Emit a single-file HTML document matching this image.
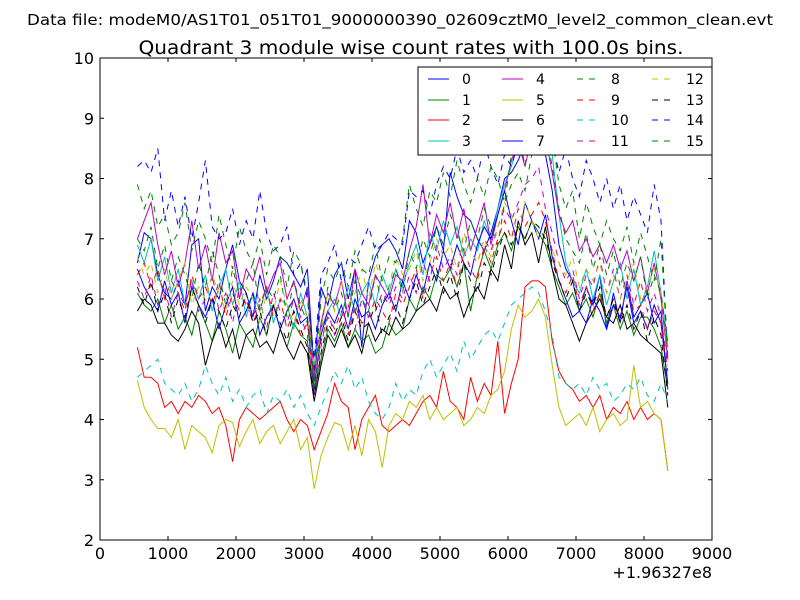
<!DOCTYPE html>
<html><head><meta charset="utf-8"><style>
body{margin:0;background:#fff;}
svg{display:block;font-family:"DejaVu Sans","Liberation Sans",sans-serif;}
</style></head><body>
<svg id="chart" width="800" height="600" viewBox="0 0 800 600" xmlns="http://www.w3.org/2000/svg">
<rect width="800" height="600" fill="#fff"/>
<text x="400" y="25" font-size="15.5" text-anchor="middle" textLength="746" lengthAdjust="spacingAndGlyphs">Data file: modeM0/AS1T01_051T01_9000000390_02609cztM0_level2_common_clean.evt</text>
<text x="411" y="54" font-size="19" text-anchor="middle" textLength="545" lengthAdjust="spacingAndGlyphs">Quadrant 3 module wise count rates with 100.0s bins.</text>
<g id="series"></g>
<rect x="100" y="58" width="612" height="482" fill="none" stroke="#000" stroke-width="1"/>
<g id="axes"></g>
<text x="712" y="578" font-size="16" text-anchor="end">+1.96327e8</text>
<g id="legend"></g>
</svg>
<script>
const times=[550,650,750,850,950,1050,1150,1250,1350,1450,1550,1650,1750,1850,1950,2050,2150,2250,2350,2450,2550,2650,2750,2850,2950,3050,3150,3250,3350,3450,3550,3650,3750,3850,3950,4050,4150,4250,4350,4450,4550,4650,4750,4850,4950,5050,5150,5250,5350,5450,5550,5650,5750,5850,5950,6050,6150,6250,6350,6450,6550,6650,6750,6850,6950,7050,7150,7250,7350,7450,7550,7650,7750,7850,7950,8050,8150,8250,8350];
const xTicks=[0,1000,2000,3000,4000,5000,6000,7000,8000,9000];
const yTicks=[2,3,4,5,6,7,8,9,10];
const s0=[6.6,7.1,7.0,6.4,6.1,6.0,6.3,5.9,6.9,7.0,5.8,6.2,6.0,6.5,6.9,6.3,6.1,5.7,6.4,6.0,6.3,6.7,6.6,6.4,6.2,6.5,4.8,6.2,5.9,6.4,6.6,6.0,6.5,5.2,6.3,6.7,6.9,7.0,6.8,6.5,7.3,7.1,6.6,6.9,7.2,6.8,8.1,7.7,7.4,7.3,7.0,6.8,7.1,7.5,8.0,8.1,8.3,8.6,8.5,8.7,8.4,7.8,6.9,6.5,6.3,5.8,6.2,5.9,6.4,5.5,6.1,5.6,6.3,5.7,5.9,6.1,5.6,5.8,4.5];
const s1=[6.1,5.9,5.8,6.0,5.6,5.9,5.5,5.7,5.4,5.9,5.6,5.3,5.8,5.5,5.1,5.6,5.4,5.2,5.7,5.4,5.9,5.5,5.2,5.6,5.4,5.3,4.4,5.0,5.5,5.3,5.6,5.2,5.5,5.3,5.4,5.1,5.2,5.6,5.4,5.5,6.0,5.8,6.2,6.0,6.4,6.3,6.5,6.2,6.6,5.8,6.4,6.8,6.5,6.9,7.1,6.8,7.2,7.0,7.3,7.1,6.9,6.5,6.2,5.9,6.1,5.8,6.0,5.7,6.1,5.6,5.9,5.5,5.8,5.4,5.7,5.7,5.5,5.2,4.5];
const s2=[5.2,4.7,4.7,4.6,4.2,4.3,4.1,4.3,4.2,4.4,4.3,4.1,4.2,3.9,3.3,4.0,4.2,4.1,4.0,4.1,4.2,4.3,4.0,3.8,4.0,3.9,3.5,3.8,4.1,4.6,4.3,4.2,3.5,4.0,4.2,4.4,3.9,3.8,3.9,4.0,3.9,4.1,4.3,4.4,4.2,4.8,4.3,4.2,4.0,4.7,4.3,4.6,4.4,5.3,4.1,4.6,5.0,6.2,6.3,6.3,6.2,5.3,4.8,4.6,4.5,4.3,4.4,4.2,4.4,4.0,4.2,4.1,4.3,4.0,4.2,4.0,4.1,4.0,3.15];
const s3=[6.9,6.6,7.0,6.3,6.7,6.1,6.5,5.9,6.3,6.0,6.4,5.8,6.2,6.5,5.9,6.3,5.7,6.1,5.8,6.2,5.6,6.0,5.9,5.5,6.1,5.7,4.9,5.5,5.8,6.0,5.7,6.2,5.8,6.1,6.3,5.9,6.4,6.1,6.5,6.2,6.6,6.9,6.4,7.1,6.8,7.3,6.9,7.2,6.7,7.0,6.8,7.3,7.0,7.5,7.9,8.2,8.6,8.8,8.9,9.0,9.1,8.4,7.4,6.6,6.3,6.1,6.5,6.0,6.4,5.9,6.3,6.6,6.0,6.5,5.9,6.2,6.8,6.1,5.3];
const s4=[7.0,7.3,7.6,6.9,6.4,6.8,6.2,6.6,7.3,6.5,6.9,6.3,7.1,6.6,6.8,6.0,6.5,6.3,6.7,6.1,6.4,6.6,6.0,6.3,5.8,6.2,4.7,5.6,6.1,5.9,6.3,5.7,6.5,6.1,5.9,6.4,6.2,6.0,6.4,6.3,6.8,7.2,7.9,6.9,7.4,7.1,7.6,7.0,7.5,6.8,7.2,7.6,6.9,7.4,7.8,8.3,8.6,8.2,8.7,8.5,8.7,8.1,7.4,7.1,7.3,6.8,7.0,6.7,6.9,6.6,6.9,6.5,6.8,6.3,6.7,6.1,6.6,6.0,5.0];
const s5=[4.65,4.2,4.0,3.85,3.85,3.7,4.0,3.5,3.9,3.8,3.7,3.45,3.9,4.0,3.95,3.55,3.8,4.0,3.6,3.8,3.9,3.6,3.8,4.0,3.5,3.7,2.85,3.4,3.7,3.95,3.9,3.5,3.9,3.4,4.0,3.8,3.2,3.9,4.1,4.0,4.3,4.2,4.4,4.0,4.2,4.0,4.1,4.2,3.9,4.0,4.2,4.1,4.4,4.5,4.8,5.5,5.9,5.7,5.8,6.0,5.7,4.9,4.2,3.9,4.0,4.1,3.9,4.2,3.8,4.0,4.1,3.9,4.0,4.9,4.2,4.3,4.1,4.0,3.15];
const s6=[5.8,6.0,5.9,5.6,5.6,5.4,5.3,5.5,5.8,5.6,4.9,5.3,5.6,5.2,5.5,5.0,5.4,5.5,5.2,5.3,5.1,5.5,5.2,5.0,5.3,5.1,4.3,4.9,5.4,5.2,5.5,5.2,5.4,5.1,5.6,5.3,5.5,5.4,5.7,5.5,5.6,5.8,5.9,6.0,5.8,6.2,6.0,6.1,5.7,6.0,6.2,6.0,6.5,6.3,6.9,6.5,7.3,6.9,7.1,6.6,7.2,6.5,6.0,5.9,5.6,5.3,5.6,5.8,6.0,5.7,5.6,5.9,5.5,5.6,5.4,5.3,5.2,5.1,4.2];
const s7=[6.5,6.2,6.0,5.8,6.3,5.9,6.1,5.6,6.2,5.9,5.7,6.0,5.5,5.9,6.2,5.6,5.8,6.1,5.4,5.7,5.9,5.5,5.8,6.0,5.6,5.7,4.5,5.4,5.8,5.6,5.9,5.5,6.0,5.7,5.8,5.5,5.9,6.1,5.8,6.3,6.0,6.4,6.1,6.6,6.3,6.8,6.5,6.9,6.6,6.4,6.9,7.2,7.0,7.4,7.8,7.3,6.9,7.6,7.3,7.0,7.4,6.7,6.3,6.0,5.7,5.8,5.6,6.0,5.8,5.5,5.9,5.7,6.2,5.6,5.8,5.5,5.9,5.6,4.6];
const s8=[7.0,6.8,7.2,6.5,6.9,6.3,6.7,6.4,6.0,6.6,6.2,6.8,6.4,5.9,6.5,6.1,6.3,6.6,5.8,6.2,6.0,6.4,5.7,6.3,5.9,5.6,4.5,5.5,6.2,5.8,6.1,5.7,6.3,6.0,5.8,6.4,5.9,6.2,6.5,6.1,6.8,6.5,7.0,6.7,7.2,6.9,7.4,7.1,6.8,7.3,7.0,7.5,7.2,6.9,7.6,7.9,8.1,7.8,8.4,8.5,8.8,8.2,7.5,7.0,6.8,6.6,7.1,6.5,6.9,6.4,6.8,6.2,6.6,6.3,6.7,6.0,6.4,6.1,5.2];
const s9=[6.4,6.6,6.2,6.5,6.0,6.3,6.1,5.8,6.4,6.0,6.2,5.9,6.3,5.7,6.1,5.8,6.0,5.6,5.9,6.2,5.7,6.0,5.5,5.8,5.4,5.6,4.6,5.3,5.7,5.5,5.8,5.4,5.9,5.6,5.7,6.0,5.8,5.6,6.1,5.9,6.2,6.5,6.0,6.4,6.7,6.3,6.6,6.2,6.8,6.5,6.3,6.9,6.6,7.0,7.3,7.0,7.5,7.2,7.4,7.6,7.3,6.8,6.3,6.1,6.4,5.9,6.2,5.8,6.1,5.7,6.0,5.6,6.3,5.8,5.9,5.5,5.8,5.6,4.8];
const s10=[4.7,4.8,4.9,5.0,4.6,4.5,4.4,4.6,4.3,4.5,4.9,4.6,4.4,4.7,4.3,4.5,4.2,4.4,4.5,4.1,4.4,4.3,4.5,4.2,4.4,4.1,3.9,4.2,4.5,4.8,4.6,4.9,4.5,4.7,4.3,4.1,4.0,4.2,4.6,4.3,4.5,4.4,4.8,5.0,4.7,4.9,5.1,4.8,5.3,5.0,5.2,5.4,5.5,5.3,5.6,5.9,6.0,6.1,6.2,6.1,5.8,5.4,4.7,4.6,4.5,4.6,4.4,4.7,4.5,4.6,4.3,4.4,4.6,4.5,4.7,4.4,4.3,4.6,4.3];
const s11=[6.3,6.0,6.4,5.9,6.2,5.7,6.1,5.9,6.3,5.8,6.0,6.4,5.8,6.1,5.6,6.2,5.9,5.7,6.0,5.5,6.1,5.8,5.6,6.0,5.7,5.4,4.4,5.2,5.8,5.4,5.6,5.9,5.5,6.0,5.7,5.8,6.1,5.9,6.2,6.0,6.4,6.1,6.6,6.3,6.9,6.5,6.7,6.4,7.1,6.8,6.6,7.0,6.8,7.2,7.5,7.3,7.6,7.9,8.0,8.2,7.5,7.1,6.6,6.3,6.5,6.0,6.4,6.2,6.7,6.1,6.5,6.0,6.4,5.9,6.3,5.8,6.1,5.7,4.9];
const s12=[6.7,6.4,6.6,6.1,6.5,6.0,6.3,6.6,5.9,6.2,6.0,6.4,6.1,5.8,6.3,5.9,6.2,6.0,5.6,6.1,5.8,6.3,5.9,5.6,6.0,5.7,4.9,5.5,6.1,5.8,6.3,5.9,6.1,6.5,6.0,6.6,6.3,6.2,6.7,6.4,6.5,6.8,6.3,6.6,7.0,6.7,6.9,6.5,7.1,6.8,6.6,7.0,6.7,7.2,7.6,7.4,7.1,7.6,7.3,7.0,7.1,6.8,6.6,6.4,6.7,6.2,6.5,6.3,6.6,6.1,6.4,6.0,6.3,6.6,6.0,6.2,6.5,6.1,5.1];
const s13=[6.2,5.9,6.3,5.8,6.1,5.6,6.0,5.7,6.2,5.9,5.6,6.0,5.8,5.5,5.9,5.7,6.1,5.6,5.8,5.4,5.9,5.6,5.3,5.8,5.5,5.2,4.4,5.1,5.6,5.4,5.7,5.3,5.8,5.5,5.6,5.9,5.4,5.7,5.9,5.6,6.0,6.3,5.9,6.2,6.5,6.1,6.4,6.0,6.6,6.3,6.1,6.6,6.4,6.8,7.1,6.9,7.2,7.0,7.3,7.2,7.0,6.6,6.3,6.0,6.3,5.8,6.1,5.9,6.2,5.7,6.0,5.6,5.9,5.5,5.8,5.3,5.7,5.4,4.4];
const s14=[8.2,8.3,8.1,8.5,7.3,7.8,7.2,7.7,7.0,7.6,8.3,7.2,7.0,7.1,7.5,6.9,7.3,7.0,7.8,7.1,6.8,6.9,7.2,6.4,6.6,6.0,5.0,6.4,6.6,6.9,6.3,6.7,6.6,6.9,7.2,6.8,6.9,7.1,7.0,6.9,7.8,7.7,7.8,7.4,7.9,8.2,8.0,8.5,8.1,8.3,8.0,8.6,8.2,7.9,8.4,8.2,8.6,8.8,8.5,8.9,9.0,8.6,8.1,8.5,8.0,7.7,8.3,8.0,7.6,8.0,7.5,7.9,7.3,7.7,7.4,7.1,7.9,7.3,5.0];
const s15=[7.9,7.5,7.8,7.2,7.4,6.9,7.1,7.6,6.8,7.3,7.0,6.6,7.4,6.9,6.5,7.2,6.8,6.6,7.0,6.4,6.9,6.7,6.2,6.8,6.6,6.1,4.6,6.0,6.5,6.3,6.6,6.2,6.8,6.5,6.4,6.9,6.3,6.7,6.6,7.0,7.9,7.5,7.2,7.8,7.6,8.1,7.7,8.3,7.9,7.6,8.0,7.7,8.2,8.0,7.6,8.4,8.8,8.2,9.1,8.9,9.4,8.7,7.9,7.5,7.8,7.0,7.6,7.2,6.9,7.3,7.0,6.8,7.2,6.6,7.1,6.7,6.3,7.0,5.0];
const seriesNames=["0","1","2","3","4","5","6","7","8","9","10","11","12","13","14","15"];
const allSeries=[s0,s1,s2,s3,s4,s5,s6,s7,s8,s9,s10,s11,s12,s13,s14,s15];

const colors=["#0000ff","#008000","#ff0000","#00bfbf","#bf00bf","#bfbf00","#000000","#0000ff","#008000","#ff0000","#00bfbf","#bf00bf","#bfbf00","#000000","#0000ff","#008000"];
const NS="http://www.w3.org/2000/svg";
const X0=100,X1=712,Y0=540,Y1=58;
function xs(v){return X0+(v-0)/(9000-0)*(X1-X0);}
function ys(v){return Y0-(v-2)/(10-2)*(Y0-Y1);}
function mk(tag,attrs,parent){const e=document.createElementNS(NS,tag);for(const k in attrs)e.setAttribute(k,attrs[k]);parent.appendChild(e);return e;}

const sg=document.getElementById('series');
allSeries.forEach((s,k)=>{
  const pts=s.map((v,i)=>xs(times[i]).toFixed(1)+','+ys(v).toFixed(1)).join(' ');
  const pl=mk('polyline',{points:pts,fill:'none',stroke:colors[k],'stroke-width':1},sg);
  if(k>=8)pl.setAttribute('stroke-dasharray','6,6');
  
  
});

const ax=document.getElementById('axes');
xTicks.forEach(t=>{
  const x=xs(t);
  mk('line',{x1:x,y1:Y0,x2:x,y2:Y0-4,stroke:'#000'},ax);
  mk('line',{x1:x,y1:Y1,x2:x,y2:Y1+4,stroke:'#000'},ax);
  const tx=mk('text',{x:x,y:Y0+19,'font-size':16,'text-anchor':'middle'},ax);
  tx.textContent=t;
  
  
});
yTicks.forEach(t=>{
  const y=ys(t);
  mk('line',{x1:X0,y1:y,x2:X0+4,y2:y,stroke:'#000'},ax);
  mk('line',{x1:X1,y1:y,x2:X1-4,y2:y,stroke:'#000'},ax);
  const tx=mk('text',{x:X0-6,y:y+6,'font-size':16,'text-anchor':'end'},ax);
  tx.textContent=t;
  
  
});

const lg=document.getElementById('legend');
const box=mk('rect',{x:418,y:67,width:294,height:88,fill:'#fff',stroke:'#000','stroke-width':1},lg);


const colX=[428,502,577,652];
const rowY=[79,100,120,141];
seriesNames.forEach((n,k)=>{
  const c=Math.floor(k/4),r=k%4;
  const g=mk('g',{},lg);
  
  
  const ln=mk('line',{x1:colX[c],y1:rowY[r],x2:colX[c]+21,y2:rowY[r],stroke:colors[k],'stroke-width':1},g);
  if(k>=8)ln.setAttribute('stroke-dasharray','6,6');
  const tx=mk('text',{x:colX[c]+34,y:rowY[r]+5,'font-size':14},g);
  tx.textContent=n;
});
</script>
</body></html>
